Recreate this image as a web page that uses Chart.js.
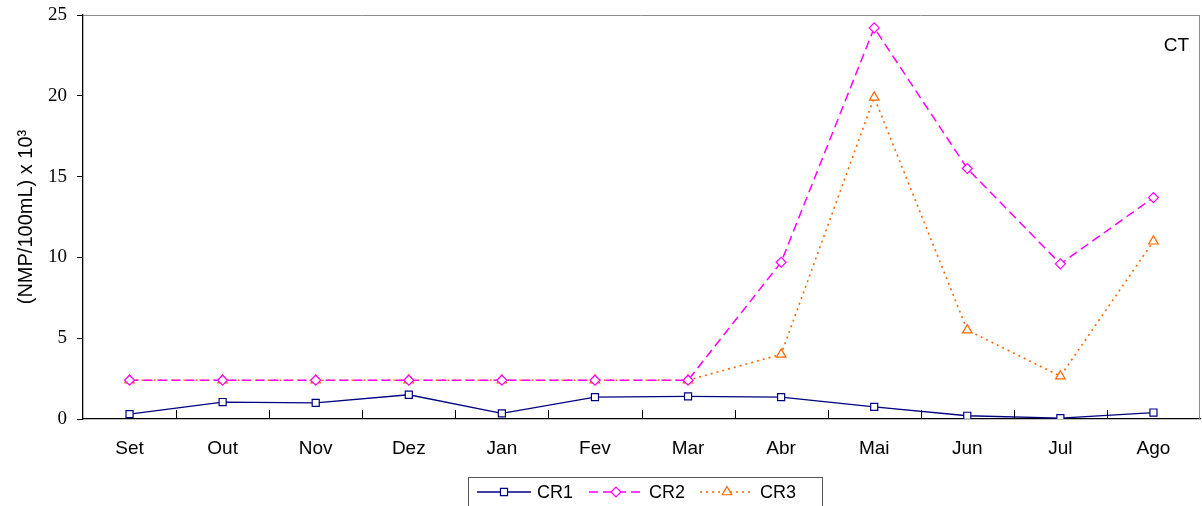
<!DOCTYPE html>
<html>
<head>
<meta charset="utf-8">
<script src="https://cdn.jsdelivr.net/npm/chart.js@4"></script>
<style>
  body { margin: 0; background: #fff; }
  #wrap { width: 1202px; height: 506px; }
</style>
</head>
<body>
<div id="wrap"><canvas id="myChart" width="1202" height="506"></canvas></div>
<script>
// months, Sept -> Aug
var months = ['Set', 'Out', 'Nov', 'Dez', 'Jan', 'Fev', 'Mar', 'Abr', 'Mai', 'Jun', 'Jul', 'Ago'];
var cr1 = [0.3, 1.05, 1.0, 1.5, 0.35, 1.35, 1.4, 1.35, 0.75, 0.2, 0.05, 0.4];
var cr2 = [2.4, 2.4, 2.4, 2.4, 2.4, 2.4, 2.4, 9.7, 24.2, 15.5, 9.6, 13.7];
var cr3 = [2.4, 2.4, 2.4, 2.4, 2.4, 2.4, 2.4, 4.0, 19.9, 5.5, 2.65, 11.0];
var yTicks = [0, 5, 10, 15, 20, 25];

// box border, inner x ticks, CT label, boxed legend
var extras = {
  id: 'extras',
  afterDraw: function(chart) {
    var c = chart.ctx, a = chart.chartArea, xs = chart.scales.x;
    c.save();
    c.strokeStyle = '#8c8c8c';
    c.lineWidth = 1;
    c.beginPath();
    c.moveTo(a.left, a.top + 0.5); c.lineTo(a.right, a.top + 0.5);
    c.moveTo(a.right - 0.5, a.top); c.lineTo(a.right - 0.5, a.bottom);
    c.stroke();

    c.strokeStyle = '#000';
    c.beginPath();
    for (var i = 1; i < months.length; i++) {
      var px = Math.round(xs.getPixelForValue(i - 0.5)) + 0.5;
      c.moveTo(px, a.bottom); c.lineTo(px, a.bottom - 9);
    }
    c.stroke();

    c.fillStyle = '#000';
    c.font = '19px "Liberation Sans"';
    c.textAlign = 'right';
    c.textBaseline = 'middle';
    c.fillText('CT', 1189, 46);

    // legend
    c.font = '18px "Liberation Sans"';
    c.strokeStyle = '#555';
    c.strokeRect(468.5, 477.5, 354, 32);
    var lx = [477, 589, 700];
    chart.data.datasets.forEach(function(ds, k) {
      var y = 492, x0 = lx[k];
      c.strokeStyle = ds.borderColor;
      c.lineWidth = ds.borderWidth;
      c.setLineDash(ds.borderDash || []);
      c.beginPath(); c.moveTo(x0, y); c.lineTo(x0 + 54, y); c.stroke();
      c.setLineDash([]);
      c.fillStyle = '#fff';
      c.lineWidth = 1.2;
      Chart.helpers.drawPoint(c, {
        pointStyle: ds.pointStyle, radius: ds.pointRadius, borderWidth: 1.2
      }, x0 + 27, y);
      c.fillStyle = '#000';
      c.textAlign = 'left';
      c.fillText(ds.label, x0 + 60, y + 1);
    });
    c.restore();
  }
};

function series(label, data, color, dash, style, r, w) {
  return {
    label: label, data: data, borderColor: color, borderWidth: w,
    borderDash: dash, pointStyle: style, pointRadius: r,
    pointBorderColor: color, pointBackgroundColor: '#fff',
    pointBorderWidth: 1.2, tension: 0, fill: false
  };
}

var ctx = document.getElementById('myChart').getContext('2d');
var myChart = new Chart(ctx, {
  type: 'line',
  data: {
    labels: months,
    datasets: [
      series('CR1', cr1, '#000080', [], 'rect', 5, 1.3),
      series('CR2', cr2, '#ff00ff', [9, 5], 'rectRot', 5, 1.5),
      series('CR3', cr3, '#ff6600', [2, 4], 'triangle', 5.5, 1.6)
    ]
  },
  options: {
    responsive: false,
    animation: false,
    events: [],
    layout: { autoPadding: false, padding: { left: 0, right: 2, top: 15, bottom: 0 } },
    plugins: { legend: { display: false }, tooltip: { enabled: false } },
    scales: {
      x: {
        offset: true,
        afterFit: function(s) { s.height = 87; s.paddingLeft = 0; s.paddingRight = 0; },
        grid: { display: false },
        border: { color: '#000', width: 1.3 },
        ticks: { color: '#000', padding: 10, font: { family: 'Liberation Sans', size: 19 } }
      },
      y: {
        min: 0, max: 25,
        afterFit: function(s) { s.width = 83; s.paddingTop = 0; s.paddingBottom = 0; },
        afterBuildTicks: function(s) { s.ticks = yTicks.map(function(v) { return { value: v }; }); },
        grid: { drawOnChartArea: false, tickLength: 6, color: '#000' },
        border: { color: '#000', width: 1.3 },
        ticks: { color: '#000', padding: 10, font: { family: 'Liberation Serif', size: 19 } },
        title: {
          display: true, text: '(NMP/100mL) x 10\u00b3', color: '#000',
          padding: { top: 14, bottom: 0 },
          font: { family: 'Liberation Sans', size: 20 }
        }
      }
    }
  },
  plugins: [extras]
});
</script>
</body>
</html>
